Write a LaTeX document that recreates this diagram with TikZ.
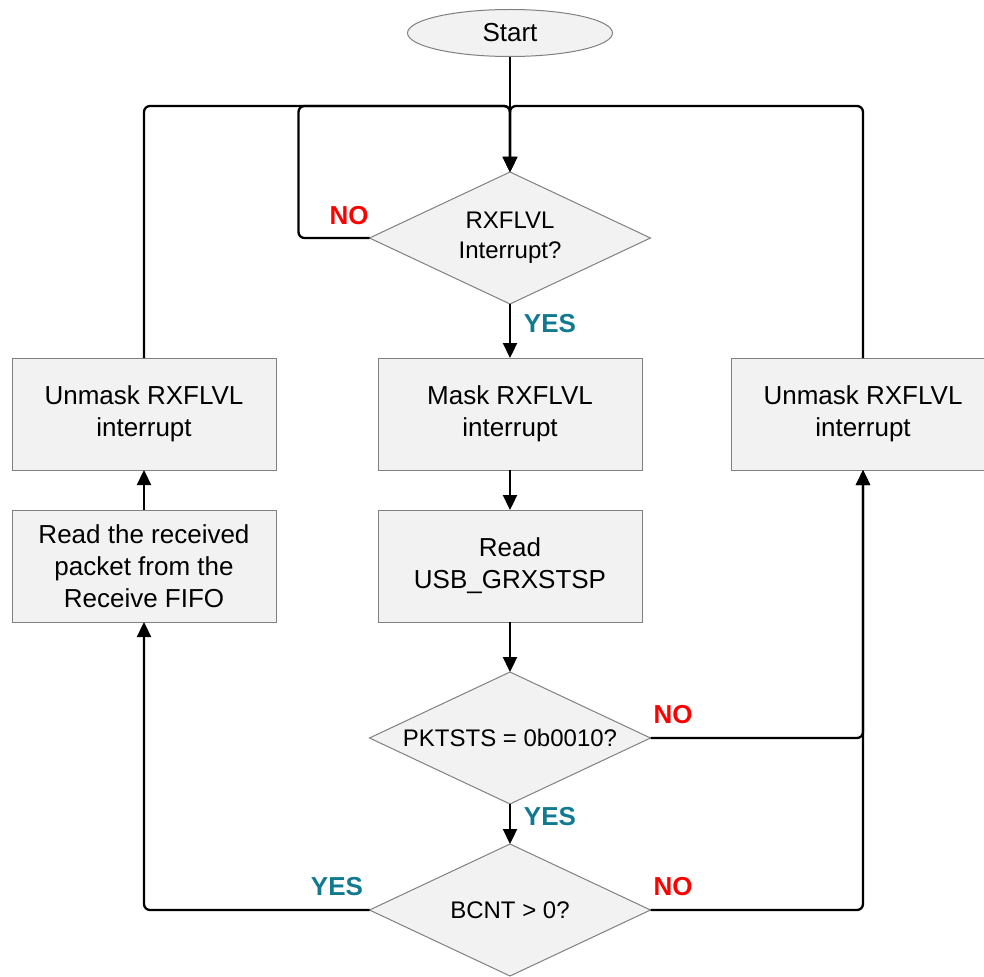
\documentclass[tikz,border=0pt]{standalone}
\usepackage{fontspec}
\setmainfont{Liberation Sans}
\usetikzlibrary{shapes.geometric,arrows.meta}
\definecolor{boxfill}{RGB}{242,242,242}
\definecolor{boxline}{RGB}{128,128,128}
\definecolor{yesblue}{RGB}{17,122,145}
\definecolor{nored}{RGB}{255,0,0}
\begin{document}
\begin{tikzpicture}[x=1pt,y=-1pt,
  font=\fontsize{26}{32}\selectfont,
  procbox/.style={draw=boxline, fill=boxfill, line width=1pt, minimum width=264pt, minimum height=112pt, align=center, inner sep=0pt, outer sep=0pt},
  decision/.style={diamond, draw=boxline, fill=boxfill, line width=1pt, minimum width=281pt, minimum height=132pt, inner sep=0pt, outer sep=0pt},
  decisiontext/.style={align=center, font=\fontsize{24}{30}\selectfont},
  flow/.style={line width=2.3pt, rounded corners=6pt, -{Triangle[length=15pt,width=14pt]}},
  nolabel/.style={text=nored, font=\fontsize{26}{31}\selectfont\bfseries},
  yeslabel/.style={text=yesblue, font=\fontsize{26}{31}\selectfont\bfseries}]
\useasboundingbox (0,0) rectangle (984,976);
\node[ellipse, draw=boxline, fill=boxfill, line width=1pt, minimum width=205pt, minimum height=47pt, inner sep=0pt] (start) at (510,33) {Start};
\node[decision, label={[decisiontext]center:RXFLVL\\Interrupt?}] (d1) at (510,238) {};
\node[procbox] (mask) at (510,414) {Mask RXFLVL\\interrupt};
\node[procbox] (readsts) at (510,566) {Read\\USB\_GRXSTSP};
\node[decision, label={[decisiontext]center:PKTSTS = 0b0010?}] (d2) at (510,738) {};
\node[decision, label={[decisiontext]center:BCNT > 0?}] (d3) at (510,910) {};
\node[procbox] (unmaskL) at (144,414) {Unmask RXFLVL\\interrupt};
\node[procbox] (readpkt) at (144,566) {Read the received\\packet from the\\Receive FIFO};
\node[procbox] (unmaskR) at (863,414) {Unmask RXFLVL\\interrupt};
\coordinate (join) at (510,106);
% flow lines
\draw[flow] (start) -- (d1.north);
\draw[flow] (unmaskL.north) |- (join) -- (d1.north);
\draw[flow] (unmaskR.north) |- (join) -- (d1.north);
\draw[flow] (d1.west) -- ++(-71,0) |- (join) -- (d1.north);
\draw[flow] (d1.south) -- (mask.north);
\draw[flow] (mask.south) -- (readsts.north);
\draw[flow] (readsts.south) -- (d2.north);
\draw[flow] (d2.south) -- (d3.north);
\draw[flow] (d2.east) -| (unmaskR.south);
\draw[flow] (d3.east) -| (unmaskR.south);
\draw[flow] (d3.west) -| (readpkt.south);
\draw[flow] (readpkt.north) -- (unmaskL.south);
% branch labels
\node[nolabel] (noA) at (349,216) {NO};
\node[yeslabel] (yesA) at (550,324) {YES};
\node[nolabel] (noB) at (673,715) {NO};
\node[yeslabel] (yesB) at (550,817) {YES};
\node[nolabel] (noC) at (673,887) {NO};
\node[yeslabel] (yesC) at (337,887) {YES};
\end{tikzpicture}
\end{document}
